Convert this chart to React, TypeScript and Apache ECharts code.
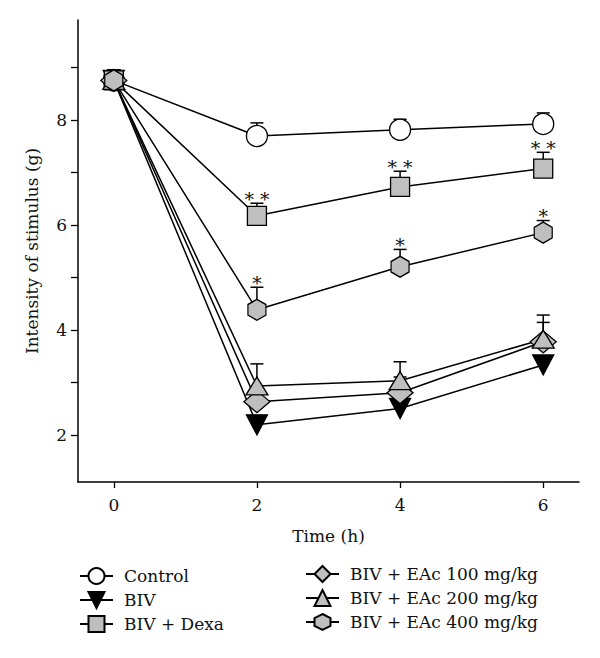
import React, { useEffect, useRef } from "react";
import * as echarts from "echarts";

const times = [0, 2, 4, 6];

const controlMean = [8.75, 7.69, 7.81, 7.92];
const controlErr = [0.2, 0.25, 0.2, 0.21];
const bivMean = [8.75, 2.19, 2.5, 3.33];
const bivErr = [0.15, 0.1, 0.1, 0.1];
const dexaMean = [8.75, 6.17, 6.72, 7.07];
const dexaErr = [0.2, 0.24, 0.3, 0.31];
const eac100Mean = [8.75, 2.63, 2.8, 3.77];
const eac100Err = [0.2, 0.25, 0.3, 0.37];
const eac200Mean = [8.75, 2.93, 3.03, 3.82];
const eac200Err = [0.2, 0.42, 0.36, 0.46];
const eac400Mean = [8.75, 4.38, 5.2, 5.85];
const eac400Err = [0.2, 0.43, 0.33, 0.23];

const dexaStars = ["", "* *", "* *", "* *"];
const eac400Stars = ["", "*", "*", "*"];

const seriesNames = [
  "Control",
  "BIV",
  "BIV + Dexa",
  "BIV + EAc 100 mg/kg",
  "BIV + EAc 200 mg/kg",
  "BIV + EAc 400 mg/kg",
];

const xTickValues = [0, 2, 4, 6];
const yTickValues = [2, 3, 4, 5, 6, 7, 8, 9];
const yLabelValues = [2, 4, 6, 8];

const FONT = "DejaVu Serif";
const GRAY = "#bfbfbf";

export default function App() {
  const ref = useRef<HTMLDivElement>(null);

  useEffect(() => {
    if (!ref.current) return;
    const chart = echarts.init(ref.current, null, { renderer: "svg" });

    const groups = [
      { name: seriesNames[0], mean: controlMean, err: controlErr, symbol: "circle", size: 21, fill: "#ffffff" },
      { name: seriesNames[1], mean: bivMean, err: bivErr, symbol: "path://M0,0 L20,0 L10,18 Z", size: [21, 20], fill: "#000000" },
      { name: seriesNames[2], mean: dexaMean, err: dexaErr, symbol: "rect", size: 19, fill: GRAY },
      { name: seriesNames[3], mean: eac100Mean, err: eac100Err, symbol: "diamond", size: [26, 22], fill: GRAY },
      { name: seriesNames[4], mean: eac200Mean, err: eac200Err, symbol: "triangle", size: [22, 18], fill: GRAY },
      { name: seriesNames[5], mean: eac400Mean, err: eac400Err, symbol: "path://M0,-10 L8.66,-5 L8.66,5 L0,10 L-8.66,5 L-8.66,-5 Z", size: [18, 21], fill: GRAY },
    ];

    const errData: number[][] = [];
    groups.forEach((g) => {
      times.forEach((t, i) => errData.push([t, g.mean[i], g.mean[i] + g.err[i]]));
    });

    const starData: (number | string)[][] = [];
    times.forEach((t, i) => {
      if (dexaStars[i]) starData.push([t, dexaMean[i] + dexaErr[i], dexaStars[i]]);
      if (eac400Stars[i]) starData.push([t, eac400Mean[i] + eac400Err[i], eac400Stars[i]]);
    });

    const lineSeries = groups.map((g) => ({
      type: "line",
      name: g.name,
      data: times.map((t, i) => [t, g.mean[i]]),
      symbol: g.symbol,
      symbolSize: g.size,
      showAllSymbol: true,
      z: 3,
      lineStyle: { color: "#000", width: 1.5 },
      itemStyle: { color: g.fill, borderColor: "#000", borderWidth: 1.3, opacity: 1 },
      emphasis: { disabled: true },
    }));

    const legendCommon = {
      orient: "vertical",
      padding: 0,
      itemWidth: 33,
      itemHeight: 20,
      itemGap: 6,
      textStyle: { fontFamily: FONT, fontSize: 17, color: "#111", padding: [0, 0, 0, 6] },
      selectedMode: false,
    };

    chart.setOption({
      animation: false,
      backgroundColor: "#ffffff",
      textStyle: { fontFamily: FONT },
      grid: { left: 78, right: 21, top: 20, bottom: 176 },
      xAxis: {
        type: "value",
        min: -0.5,
        max: 6.5,
        name: "Time (h)",
        nameLocation: "middle",
        nameGap: 45,
        nameTextStyle: { fontFamily: FONT, fontSize: 17, color: "#111" },
        axisLine: { onZero: false, lineStyle: { color: "#000", width: 1.5 } },
        axisTick: { show: true, length: 6, customValues: xTickValues, lineStyle: { color: "#000", width: 1.3 } },
        axisLabel: { customValues: xTickValues, fontFamily: FONT, fontSize: 17, color: "#111", margin: 14 },
        splitLine: { show: false },
      },
      yAxis: {
        type: "value",
        min: 1.1,
        max: 9.9,
        name: "Intensity of stimulus (g)",
        nameLocation: "middle",
        nameGap: 38,
        nameTextStyle: { fontFamily: FONT, fontSize: 17, color: "#111" },
        axisLine: { show: true, onZero: false, lineStyle: { color: "#000", width: 1.5 } },
        axisTick: { show: true, length: 7, customValues: yTickValues, lineStyle: { color: "#000", width: 1.3 } },
        axisLabel: { customValues: yLabelValues, fontFamily: FONT, fontSize: 17, color: "#111", margin: 11 },
        splitLine: { show: false },
      },
      legend: [
        { ...legendCommon, left: 79, top: 567, data: seriesNames.slice(0, 3) },
        { ...legendCommon, left: 305, top: 565, data: seriesNames.slice(3, 6) },
      ],
      series: [
        {
          type: "custom",
          name: "errors",
          z: 2,
          silent: true,
          data: errData,
          renderItem: (params: any, api: any) => {
            const x = api.value(0);
            const p1 = api.coord([x, api.value(1)]);
            const p2 = api.coord([x, api.value(2)]);
            const style = { stroke: "#000", lineWidth: 1.5 };
            return {
              type: "group",
              children: [
                { type: "line", shape: { x1: p1[0], y1: p1[1], x2: p2[0], y2: p2[1] }, style },
                { type: "line", shape: { x1: p2[0] - 6.5, y1: p2[1], x2: p2[0] + 6.5, y2: p2[1] }, style },
              ],
            };
          },
        },
        {
          type: "custom",
          name: "stars",
          z: 4,
          silent: true,
          data: starData,
          renderItem: (params: any, api: any) => {
            const p = api.coord([api.value(0), api.value(1)]);
            return {
              type: "text",
              x: p[0],
              y: p[1] + 5,
              style: {
                text: String(starData[params.dataIndex][2]),
                fontFamily: FONT,
                fontSize: 19,
                fill: "#111",
                align: "center",
                verticalAlign: "bottom",
              },
            };
          },
        },
        ...lineSeries,
      ],
    });

    return () => chart.dispose();
  }, []);

  return <div ref={ref} style={{ width: 600, height: 658, margin: -8 }} />;
}
